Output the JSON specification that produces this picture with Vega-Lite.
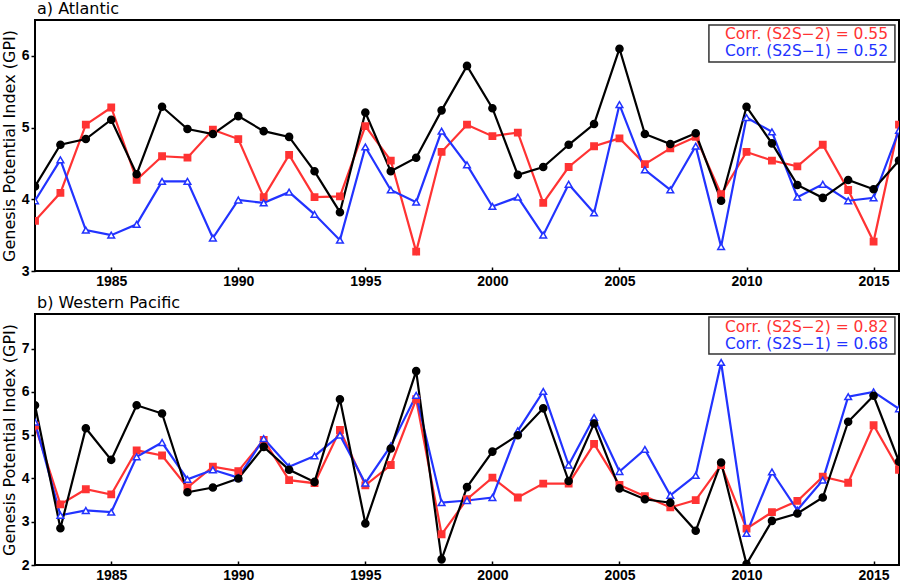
{
  "$schema": "https://vega.github.io/schema/vega-lite/v6.json",
  "padding": {"left": 0, "top": 0, "right": 2, "bottom": 0},
  "background": "white",
  "config": {
    "view": {"stroke": "black", "strokeWidth": 2},
    "font": "DejaVu Sans",
    "title": {"font": "DejaVu Sans", "fontSize": 16, "fontWeight": "normal", "anchor": "start", "frame": "group", "baseline": "alphabetic", "offset": 3, "dx": 2, "color": "black"},
    "axisX": {"tickSize": -4, "labelPadding": 7, "domain": false, "grid": false, "labelFont": "Liberation Sans", "labelFontSize": 14, "labelFontWeight": "bold", "labelColor": "black", "tickColor": "black", "tickWidth": 1.5, "labelFlush": false, "labelOverlap": false},
    "axisY": {"tickSize": 4, "labelPadding": 2, "domain": false, "grid": false, "labelFont": "Liberation Sans", "labelFontSize": 14, "labelFontWeight": "bold", "labelColor": "black", "tickColor": "black", "tickWidth": 1.5, "titleFont": "DejaVu Sans", "titleFontSize": 16, "titleFontWeight": "normal", "titleColor": "black", "titlePadding": 4}
  },
  "datasets": {
    "corr": [
      {"basin": "Atlantic", "model": "S2S-2", "r": 0.55, "label": "Corr. (S2S−2) = 0.55"},
      {"basin": "Atlantic", "model": "S2S-1", "r": 0.52, "label": "Corr. (S2S−1) = 0.52"},
      {"basin": "Western Pacific", "model": "S2S-2", "r": 0.82, "label": "Corr. (S2S−2) = 0.82"},
      {"basin": "Western Pacific", "model": "S2S-1", "r": 0.68, "label": "Corr. (S2S−1) = 0.68"}
    ],
    "gpi": [
      {"basin":"Atlantic","series":"S2S-2","year":1982,"gpi":3.70},{"basin":"Atlantic","series":"S2S-2","year":1983,"gpi":4.09},{"basin":"Atlantic","series":"S2S-2","year":1984,"gpi":5.04},{"basin":"Atlantic","series":"S2S-2","year":1985,"gpi":5.28},{"basin":"Atlantic","series":"S2S-2","year":1986,"gpi":4.27},{"basin":"Atlantic","series":"S2S-2","year":1987,"gpi":4.60},{"basin":"Atlantic","series":"S2S-2","year":1988,"gpi":4.58},{"basin":"Atlantic","series":"S2S-2","year":1989,"gpi":4.97},{"basin":"Atlantic","series":"S2S-2","year":1990,"gpi":4.84},{"basin":"Atlantic","series":"S2S-2","year":1991,"gpi":4.03},{"basin":"Atlantic","series":"S2S-2","year":1992,"gpi":4.62},{"basin":"Atlantic","series":"S2S-2","year":1993,"gpi":4.03},{"basin":"Atlantic","series":"S2S-2","year":1994,"gpi":4.04},{"basin":"Atlantic","series":"S2S-2","year":1995,"gpi":5.02},{"basin":"Atlantic","series":"S2S-2","year":1996,"gpi":4.54},{"basin":"Atlantic","series":"S2S-2","year":1997,"gpi":3.27},{"basin":"Atlantic","series":"S2S-2","year":1998,"gpi":4.66},{"basin":"Atlantic","series":"S2S-2","year":1999,"gpi":5.04},{"basin":"Atlantic","series":"S2S-2","year":2000,"gpi":4.88},{"basin":"Atlantic","series":"S2S-2","year":2001,"gpi":4.93},{"basin":"Atlantic","series":"S2S-2","year":2002,"gpi":3.95},{"basin":"Atlantic","series":"S2S-2","year":2003,"gpi":4.45},{"basin":"Atlantic","series":"S2S-2","year":2004,"gpi":4.74},{"basin":"Atlantic","series":"S2S-2","year":2005,"gpi":4.85},{"basin":"Atlantic","series":"S2S-2","year":2006,"gpi":4.49},{"basin":"Atlantic","series":"S2S-2","year":2007,"gpi":4.71},{"basin":"Atlantic","series":"S2S-2","year":2008,"gpi":4.87},{"basin":"Atlantic","series":"S2S-2","year":2009,"gpi":4.07},{"basin":"Atlantic","series":"S2S-2","year":2010,"gpi":4.66},{"basin":"Atlantic","series":"S2S-2","year":2011,"gpi":4.54},{"basin":"Atlantic","series":"S2S-2","year":2012,"gpi":4.46},{"basin":"Atlantic","series":"S2S-2","year":2013,"gpi":4.76},{"basin":"Atlantic","series":"S2S-2","year":2014,"gpi":4.13},{"basin":"Atlantic","series":"S2S-2","year":2015,"gpi":3.41},{"basin":"Atlantic","series":"S2S-2","year":2016,"gpi":5.04},
      {"basin":"Atlantic","series":"S2S-1","year":1982,"gpi":3.98},{"basin":"Atlantic","series":"S2S-1","year":1983,"gpi":4.55},{"basin":"Atlantic","series":"S2S-1","year":1984,"gpi":3.57},{"basin":"Atlantic","series":"S2S-1","year":1985,"gpi":3.50},{"basin":"Atlantic","series":"S2S-1","year":1986,"gpi":3.65},{"basin":"Atlantic","series":"S2S-1","year":1987,"gpi":4.25},{"basin":"Atlantic","series":"S2S-1","year":1988,"gpi":4.25},{"basin":"Atlantic","series":"S2S-1","year":1989,"gpi":3.46},{"basin":"Atlantic","series":"S2S-1","year":1990,"gpi":3.99},{"basin":"Atlantic","series":"S2S-1","year":1991,"gpi":3.95},{"basin":"Atlantic","series":"S2S-1","year":1992,"gpi":4.10},{"basin":"Atlantic","series":"S2S-1","year":1993,"gpi":3.79},{"basin":"Atlantic","series":"S2S-1","year":1994,"gpi":3.43},{"basin":"Atlantic","series":"S2S-1","year":1995,"gpi":4.73},{"basin":"Atlantic","series":"S2S-1","year":1996,"gpi":4.13},{"basin":"Atlantic","series":"S2S-1","year":1997,"gpi":3.96},{"basin":"Atlantic","series":"S2S-1","year":1998,"gpi":4.95},{"basin":"Atlantic","series":"S2S-1","year":1999,"gpi":4.48},{"basin":"Atlantic","series":"S2S-1","year":2000,"gpi":3.90},{"basin":"Atlantic","series":"S2S-1","year":2001,"gpi":4.03},{"basin":"Atlantic","series":"S2S-1","year":2002,"gpi":3.50},{"basin":"Atlantic","series":"S2S-1","year":2003,"gpi":4.21},{"basin":"Atlantic","series":"S2S-1","year":2004,"gpi":3.81},{"basin":"Atlantic","series":"S2S-1","year":2005,"gpi":5.32},{"basin":"Atlantic","series":"S2S-1","year":2006,"gpi":4.41},{"basin":"Atlantic","series":"S2S-1","year":2007,"gpi":4.13},{"basin":"Atlantic","series":"S2S-1","year":2008,"gpi":4.74},{"basin":"Atlantic","series":"S2S-1","year":2009,"gpi":3.34},{"basin":"Atlantic","series":"S2S-1","year":2010,"gpi":5.14},{"basin":"Atlantic","series":"S2S-1","year":2011,"gpi":4.94},{"basin":"Atlantic","series":"S2S-1","year":2012,"gpi":4.03},{"basin":"Atlantic","series":"S2S-1","year":2013,"gpi":4.21},{"basin":"Atlantic","series":"S2S-1","year":2014,"gpi":3.98},{"basin":"Atlantic","series":"S2S-1","year":2015,"gpi":4.02},{"basin":"Atlantic","series":"S2S-1","year":2016,"gpi":4.96},
      {"basin":"Atlantic","series":"Obs","year":1982,"gpi":4.18},{"basin":"Atlantic","series":"Obs","year":1983,"gpi":4.76},{"basin":"Atlantic","series":"Obs","year":1984,"gpi":4.84},{"basin":"Atlantic","series":"Obs","year":1985,"gpi":5.11},{"basin":"Atlantic","series":"Obs","year":1986,"gpi":4.35},{"basin":"Atlantic","series":"Obs","year":1987,"gpi":5.29},{"basin":"Atlantic","series":"Obs","year":1988,"gpi":4.98},{"basin":"Atlantic","series":"Obs","year":1989,"gpi":4.91},{"basin":"Atlantic","series":"Obs","year":1990,"gpi":5.16},{"basin":"Atlantic","series":"Obs","year":1991,"gpi":4.95},{"basin":"Atlantic","series":"Obs","year":1992,"gpi":4.87},{"basin":"Atlantic","series":"Obs","year":1993,"gpi":4.39},{"basin":"Atlantic","series":"Obs","year":1994,"gpi":3.82},{"basin":"Atlantic","series":"Obs","year":1995,"gpi":5.21},{"basin":"Atlantic","series":"Obs","year":1996,"gpi":4.39},{"basin":"Atlantic","series":"Obs","year":1997,"gpi":4.58},{"basin":"Atlantic","series":"Obs","year":1998,"gpi":5.24},{"basin":"Atlantic","series":"Obs","year":1999,"gpi":5.86},{"basin":"Atlantic","series":"Obs","year":2000,"gpi":5.27},{"basin":"Atlantic","series":"Obs","year":2001,"gpi":4.34},{"basin":"Atlantic","series":"Obs","year":2002,"gpi":4.45},{"basin":"Atlantic","series":"Obs","year":2003,"gpi":4.76},{"basin":"Atlantic","series":"Obs","year":2004,"gpi":5.05},{"basin":"Atlantic","series":"Obs","year":2005,"gpi":6.10},{"basin":"Atlantic","series":"Obs","year":2006,"gpi":4.91},{"basin":"Atlantic","series":"Obs","year":2007,"gpi":4.77},{"basin":"Atlantic","series":"Obs","year":2008,"gpi":4.92},{"basin":"Atlantic","series":"Obs","year":2009,"gpi":3.98},{"basin":"Atlantic","series":"Obs","year":2010,"gpi":5.29},{"basin":"Atlantic","series":"Obs","year":2011,"gpi":4.78},{"basin":"Atlantic","series":"Obs","year":2012,"gpi":4.20},{"basin":"Atlantic","series":"Obs","year":2013,"gpi":4.02},{"basin":"Atlantic","series":"Obs","year":2014,"gpi":4.27},{"basin":"Atlantic","series":"Obs","year":2015,"gpi":4.14},{"basin":"Atlantic","series":"Obs","year":2016,"gpi":4.54},
      {"basin":"Western Pacific","series":"S2S-2","year":1982,"gpi":5.22},{"basin":"Western Pacific","series":"S2S-2","year":1983,"gpi":3.40},{"basin":"Western Pacific","series":"S2S-2","year":1984,"gpi":3.75},{"basin":"Western Pacific","series":"S2S-2","year":1985,"gpi":3.63},{"basin":"Western Pacific","series":"S2S-2","year":1986,"gpi":4.65},{"basin":"Western Pacific","series":"S2S-2","year":1987,"gpi":4.53},{"basin":"Western Pacific","series":"S2S-2","year":1988,"gpi":3.79},{"basin":"Western Pacific","series":"S2S-2","year":1989,"gpi":4.27},{"basin":"Western Pacific","series":"S2S-2","year":1990,"gpi":4.17},{"basin":"Western Pacific","series":"S2S-2","year":1991,"gpi":4.89},{"basin":"Western Pacific","series":"S2S-2","year":1992,"gpi":3.96},{"basin":"Western Pacific","series":"S2S-2","year":1993,"gpi":3.89},{"basin":"Western Pacific","series":"S2S-2","year":1994,"gpi":5.12},{"basin":"Western Pacific","series":"S2S-2","year":1995,"gpi":3.84},{"basin":"Western Pacific","series":"S2S-2","year":1996,"gpi":4.31},{"basin":"Western Pacific","series":"S2S-2","year":1997,"gpi":5.83},{"basin":"Western Pacific","series":"S2S-2","year":1998,"gpi":2.71},{"basin":"Western Pacific","series":"S2S-2","year":1999,"gpi":3.52},{"basin":"Western Pacific","series":"S2S-2","year":2000,"gpi":4.02},{"basin":"Western Pacific","series":"S2S-2","year":2001,"gpi":3.56},{"basin":"Western Pacific","series":"S2S-2","year":2002,"gpi":3.88},{"basin":"Western Pacific","series":"S2S-2","year":2003,"gpi":3.88},{"basin":"Western Pacific","series":"S2S-2","year":2004,"gpi":4.80},{"basin":"Western Pacific","series":"S2S-2","year":2005,"gpi":3.85},{"basin":"Western Pacific","series":"S2S-2","year":2006,"gpi":3.59},{"basin":"Western Pacific","series":"S2S-2","year":2007,"gpi":3.33},{"basin":"Western Pacific","series":"S2S-2","year":2008,"gpi":3.50},{"basin":"Western Pacific","series":"S2S-2","year":2009,"gpi":4.31},{"basin":"Western Pacific","series":"S2S-2","year":2010,"gpi":2.84},{"basin":"Western Pacific","series":"S2S-2","year":2011,"gpi":3.22},{"basin":"Western Pacific","series":"S2S-2","year":2012,"gpi":3.48},{"basin":"Western Pacific","series":"S2S-2","year":2013,"gpi":4.04},{"basin":"Western Pacific","series":"S2S-2","year":2014,"gpi":3.90},{"basin":"Western Pacific","series":"S2S-2","year":2015,"gpi":5.23},{"basin":"Western Pacific","series":"S2S-2","year":2016,"gpi":4.20},
      {"basin":"Western Pacific","series":"S2S-1","year":1982,"gpi":5.30},{"basin":"Western Pacific","series":"S2S-1","year":1983,"gpi":3.15},{"basin":"Western Pacific","series":"S2S-1","year":1984,"gpi":3.26},{"basin":"Western Pacific","series":"S2S-1","year":1985,"gpi":3.22},{"basin":"Western Pacific","series":"S2S-1","year":1986,"gpi":4.50},{"basin":"Western Pacific","series":"S2S-1","year":1987,"gpi":4.83},{"basin":"Western Pacific","series":"S2S-1","year":1988,"gpi":3.98},{"basin":"Western Pacific","series":"S2S-1","year":1989,"gpi":4.20},{"basin":"Western Pacific","series":"S2S-1","year":1990,"gpi":4.02},{"basin":"Western Pacific","series":"S2S-1","year":1991,"gpi":4.92},{"basin":"Western Pacific","series":"S2S-1","year":1992,"gpi":4.27},{"basin":"Western Pacific","series":"S2S-1","year":1993,"gpi":4.52},{"basin":"Western Pacific","series":"S2S-1","year":1994,"gpi":5.00},{"basin":"Western Pacific","series":"S2S-1","year":1995,"gpi":3.89},{"basin":"Western Pacific","series":"S2S-1","year":1996,"gpi":4.75},{"basin":"Western Pacific","series":"S2S-1","year":1997,"gpi":5.92},{"basin":"Western Pacific","series":"S2S-1","year":1998,"gpi":3.44},{"basin":"Western Pacific","series":"S2S-1","year":1999,"gpi":3.49},{"basin":"Western Pacific","series":"S2S-1","year":2000,"gpi":3.56},{"basin":"Western Pacific","series":"S2S-1","year":2001,"gpi":5.10},{"basin":"Western Pacific","series":"S2S-1","year":2002,"gpi":6.01},{"basin":"Western Pacific","series":"S2S-1","year":2003,"gpi":4.31},{"basin":"Western Pacific","series":"S2S-1","year":2004,"gpi":5.41},{"basin":"Western Pacific","series":"S2S-1","year":2005,"gpi":4.16},{"basin":"Western Pacific","series":"S2S-1","year":2006,"gpi":4.67},{"basin":"Western Pacific","series":"S2S-1","year":2007,"gpi":3.61},{"basin":"Western Pacific","series":"S2S-1","year":2008,"gpi":4.07},{"basin":"Western Pacific","series":"S2S-1","year":2009,"gpi":6.68},{"basin":"Western Pacific","series":"S2S-1","year":2010,"gpi":2.73},{"basin":"Western Pacific","series":"S2S-1","year":2011,"gpi":4.15},{"basin":"Western Pacific","series":"S2S-1","year":2012,"gpi":3.27},{"basin":"Western Pacific","series":"S2S-1","year":2013,"gpi":3.96},{"basin":"Western Pacific","series":"S2S-1","year":2014,"gpi":5.89},{"basin":"Western Pacific","series":"S2S-1","year":2015,"gpi":6.00},{"basin":"Western Pacific","series":"S2S-1","year":2016,"gpi":5.61},
      {"basin":"Western Pacific","series":"Obs","year":1982,"gpi":5.69},{"basin":"Western Pacific","series":"Obs","year":1983,"gpi":2.85},{"basin":"Western Pacific","series":"Obs","year":1984,"gpi":5.16},{"basin":"Western Pacific","series":"Obs","year":1985,"gpi":4.43},{"basin":"Western Pacific","series":"Obs","year":1986,"gpi":5.69},{"basin":"Western Pacific","series":"Obs","year":1987,"gpi":5.50},{"basin":"Western Pacific","series":"Obs","year":1988,"gpi":3.68},{"basin":"Western Pacific","series":"Obs","year":1989,"gpi":3.79},{"basin":"Western Pacific","series":"Obs","year":1990,"gpi":4.00},{"basin":"Western Pacific","series":"Obs","year":1991,"gpi":4.73},{"basin":"Western Pacific","series":"Obs","year":1992,"gpi":4.20},{"basin":"Western Pacific","series":"Obs","year":1993,"gpi":3.92},{"basin":"Western Pacific","series":"Obs","year":1994,"gpi":5.83},{"basin":"Western Pacific","series":"Obs","year":1995,"gpi":2.96},{"basin":"Western Pacific","series":"Obs","year":1996,"gpi":4.69},{"basin":"Western Pacific","series":"Obs","year":1997,"gpi":6.48},{"basin":"Western Pacific","series":"Obs","year":1998,"gpi":2.13},{"basin":"Western Pacific","series":"Obs","year":1999,"gpi":3.80},{"basin":"Western Pacific","series":"Obs","year":2000,"gpi":4.62},{"basin":"Western Pacific","series":"Obs","year":2001,"gpi":5.00},{"basin":"Western Pacific","series":"Obs","year":2002,"gpi":5.62},{"basin":"Western Pacific","series":"Obs","year":2003,"gpi":3.94},{"basin":"Western Pacific","series":"Obs","year":2004,"gpi":5.27},{"basin":"Western Pacific","series":"Obs","year":2005,"gpi":3.77},{"basin":"Western Pacific","series":"Obs","year":2006,"gpi":3.52},{"basin":"Western Pacific","series":"Obs","year":2007,"gpi":3.44},{"basin":"Western Pacific","series":"Obs","year":2008,"gpi":2.79},{"basin":"Western Pacific","series":"Obs","year":2009,"gpi":4.37},{"basin":"Western Pacific","series":"Obs","year":2010,"gpi":2.02},{"basin":"Western Pacific","series":"Obs","year":2011,"gpi":3.02},{"basin":"Western Pacific","series":"Obs","year":2012,"gpi":3.19},{"basin":"Western Pacific","series":"Obs","year":2013,"gpi":3.56},{"basin":"Western Pacific","series":"Obs","year":2014,"gpi":5.31},{"basin":"Western Pacific","series":"Obs","year":2015,"gpi":5.91},{"basin":"Western Pacific","series":"Obs","year":2016,"gpi":4.39}
    ]
  },
  "spacing": 43,
  "bounds": "flush",
  "vconcat": [
    {
      "title": {"text": "a) Atlantic"},
      "width": 864,
      "height": 251,
      "layer": [
        {
          "data": {"name": "gpi"},
          "transform": [{"filter": "datum.basin === 'Atlantic'"}],
          "mark": {"type": "line", "strokeWidth": 2.2, "clip": true},
          "encoding": {
            "x": {"field": "year", "type": "quantitative", "scale": {"domain": [1982, 2016], "nice": false, "zero": false}, "axis": {"values": [1985, 1990, 1995, 2000, 2005, 2010, 2015], "format": "d", "title": null}},
            "y": {"field": "gpi", "type": "quantitative", "scale": {"domain": [3, 6.5], "nice": false, "zero": false}, "axis": {"values": [3, 4, 5, 6], "format": "d", "title": "Genesis Potential Index (GPI)"}},
            "color": {"field": "series", "type": "nominal", "scale": {"domain": ["S2S-2", "S2S-1", "Obs"], "range": ["#ff3333", "#2233ff", "#000000"]}, "legend": null}
          }
        },
        {
          "data": {"name": "gpi"},
          "transform": [{"filter": "datum.basin === 'Atlantic'"}],
          "mark": {"type": "point", "filled": true, "strokeWidth": 1.5, "opacity": 1, "clip": true},
          "encoding": {
            "x": {"field": "year", "type": "quantitative", "axis": {"values": [1985, 1990, 1995, 2000, 2005, 2010, 2015], "format": "d", "title": null}},
            "y": {"field": "gpi", "type": "quantitative", "axis": {"values": [3, 4, 5, 6], "format": "d", "title": "Genesis Potential Index (GPI)"}},
            "shape": {"field": "series", "type": "nominal", "scale": {"domain": ["S2S-2", "S2S-1", "Obs"], "range": ["square", "triangle-up", "circle"]}, "legend": null},
            "fill": {"field": "series", "type": "nominal", "scale": {"domain": ["S2S-2", "S2S-1", "Obs"], "range": ["#ff3333", "#ffffff", "#000000"]}, "legend": null},
            "stroke": {"field": "series", "type": "nominal", "scale": {"domain": ["S2S-2", "S2S-1", "Obs"], "range": ["#ff3333", "#2233ff", "#000000"]}, "legend": null},
            "size": {"field": "series", "type": "nominal", "scale": {"domain": ["S2S-2", "S2S-1", "Obs"], "range": [40, 50, 36]}, "legend": null}
          }
        },
        {
          "data": {"name": "corr"},
          "transform": [{"filter": "datum.basin === 'Atlantic' && datum.model === 'S2S-2'"}],
          "mark": {"type": "rect", "fill": "white", "stroke": "#333333", "strokeWidth": 1.5},
          "encoding": {
            "x": {"datum": 2008.52, "type": "quantitative", "axis": {"values": [1985, 1990, 1995, 2000, 2005, 2010, 2015], "format": "d", "title": null}},
            "x2": {"datum": 2015.84},
            "y": {"datum": 6.43, "type": "quantitative", "axis": {"values": [3, 4, 5, 6], "format": "d", "title": "Genesis Potential Index (GPI)"}},
            "y2": {"datum": 5.914}
          }
        },
        {
          "data": {"name": "corr"},
          "transform": [{"filter": "datum.basin === 'Atlantic' && datum.model === 'S2S-2'"}],
          "mark": {"type": "text", "align": "right", "baseline": "middle", "fontSize": 15.5, "font": "DejaVu Sans", "color": "#ff3333"},
          "encoding": {
            "x": {"datum": 2015.57, "type": "quantitative", "axis": {"values": [1985, 1990, 1995, 2000, 2005, 2010, 2015], "format": "d", "title": null}},
            "y": {"datum": 6.305, "type": "quantitative", "axis": {"values": [3, 4, 5, 6], "format": "d", "title": "Genesis Potential Index (GPI)"}},
            "text": {"field": "label"}
          }
        },
        {
          "data": {"name": "corr"},
          "transform": [{"filter": "datum.basin === 'Atlantic' && datum.model === 'S2S-1'"}],
          "mark": {"type": "text", "align": "right", "baseline": "middle", "fontSize": 15.5, "font": "DejaVu Sans", "color": "#2233ff"},
          "encoding": {
            "x": {"datum": 2015.57, "type": "quantitative", "axis": {"values": [1985, 1990, 1995, 2000, 2005, 2010, 2015], "format": "d", "title": null}},
            "y": {"datum": 6.068, "type": "quantitative", "axis": {"values": [3, 4, 5, 6], "format": "d", "title": "Genesis Potential Index (GPI)"}},
            "text": {"field": "label"}
          }
        }
      ]
    },
    {
      "title": {"text": "b) Western Pacific"},
      "width": 864,
      "height": 251,
      "layer": [
        {
          "data": {"name": "gpi"},
          "transform": [{"filter": "datum.basin === 'Western Pacific'"}],
          "mark": {"type": "line", "strokeWidth": 2.2, "clip": true},
          "encoding": {
            "x": {"field": "year", "type": "quantitative", "scale": {"domain": [1982, 2016], "nice": false, "zero": false}, "axis": {"values": [1985, 1990, 1995, 2000, 2005, 2010, 2015], "format": "d", "title": null}},
            "y": {"field": "gpi", "type": "quantitative", "scale": {"domain": [2, 7.8], "nice": false, "zero": false}, "axis": {"values": [2, 3, 4, 5, 6, 7], "format": "d", "title": "Genesis Potential Index (GPI)"}},
            "color": {"field": "series", "type": "nominal", "scale": {"domain": ["S2S-2", "S2S-1", "Obs"], "range": ["#ff3333", "#2233ff", "#000000"]}, "legend": null}
          }
        },
        {
          "data": {"name": "gpi"},
          "transform": [{"filter": "datum.basin === 'Western Pacific'"}],
          "mark": {"type": "point", "filled": true, "strokeWidth": 1.5, "opacity": 1, "clip": true},
          "encoding": {
            "x": {"field": "year", "type": "quantitative", "axis": {"values": [1985, 1990, 1995, 2000, 2005, 2010, 2015], "format": "d", "title": null}},
            "y": {"field": "gpi", "type": "quantitative", "axis": {"values": [2, 3, 4, 5, 6, 7], "format": "d", "title": "Genesis Potential Index (GPI)"}},
            "shape": {"field": "series", "type": "nominal", "scale": {"domain": ["S2S-2", "S2S-1", "Obs"], "range": ["square", "triangle-up", "circle"]}, "legend": null},
            "fill": {"field": "series", "type": "nominal", "scale": {"domain": ["S2S-2", "S2S-1", "Obs"], "range": ["#ff3333", "#ffffff", "#000000"]}, "legend": null},
            "stroke": {"field": "series", "type": "nominal", "scale": {"domain": ["S2S-2", "S2S-1", "Obs"], "range": ["#ff3333", "#2233ff", "#000000"]}, "legend": null},
            "size": {"field": "series", "type": "nominal", "scale": {"domain": ["S2S-2", "S2S-1", "Obs"], "range": [40, 50, 36]}, "legend": null}
          }
        },
        {
          "data": {"name": "corr"},
          "transform": [{"filter": "datum.basin === 'Western Pacific' && datum.model === 'S2S-2'"}],
          "mark": {"type": "rect", "fill": "white", "stroke": "#333333", "strokeWidth": 1.5},
          "encoding": {
            "x": {"datum": 2008.52, "type": "quantitative", "axis": {"values": [1985, 1990, 1995, 2000, 2005, 2010, 2015], "format": "d", "title": null}},
            "x2": {"datum": 2015.84},
            "y": {"datum": 7.731, "type": "quantitative", "axis": {"values": [2, 3, 4, 5, 6, 7], "format": "d", "title": "Genesis Potential Index (GPI)"}},
            "y2": {"datum": 6.876}
          }
        },
        {
          "data": {"name": "corr"},
          "transform": [{"filter": "datum.basin === 'Western Pacific' && datum.model === 'S2S-2'"}],
          "mark": {"type": "text", "align": "right", "baseline": "middle", "fontSize": 15.5, "font": "DejaVu Sans", "color": "#ff3333"},
          "encoding": {
            "x": {"datum": 2015.57, "type": "quantitative", "axis": {"values": [1985, 1990, 1995, 2000, 2005, 2010, 2015], "format": "d", "title": null}},
            "y": {"datum": 7.5, "type": "quantitative", "axis": {"values": [2, 3, 4, 5, 6, 7], "format": "d", "title": "Genesis Potential Index (GPI)"}},
            "text": {"field": "label"}
          }
        },
        {
          "data": {"name": "corr"},
          "transform": [{"filter": "datum.basin === 'Western Pacific' && datum.model === 'S2S-1'"}],
          "mark": {"type": "text", "align": "right", "baseline": "middle", "fontSize": 15.5, "font": "DejaVu Sans", "color": "#2233ff"},
          "encoding": {
            "x": {"datum": 2015.57, "type": "quantitative", "axis": {"values": [1985, 1990, 1995, 2000, 2005, 2010, 2015], "format": "d", "title": null}},
            "y": {"datum": 7.107, "type": "quantitative", "axis": {"values": [2, 3, 4, 5, 6, 7], "format": "d", "title": "Genesis Potential Index (GPI)"}},
            "text": {"field": "label"}
          }
        }
      ]
    }
  ]
}
